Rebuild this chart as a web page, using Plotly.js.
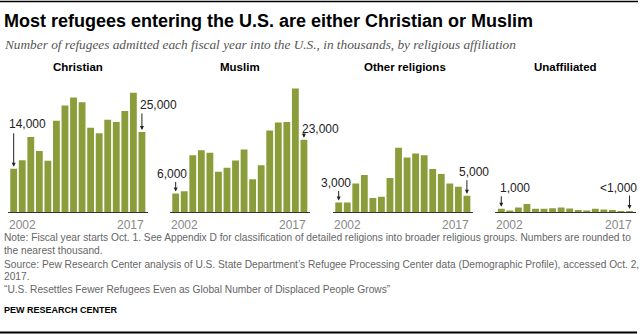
<!DOCTYPE html>
<html>
<head>
<meta charset="utf-8">
<script src="https://cdn.plot.ly/plotly-3.0.1.min.js"></script>
<style>
  html, body { margin: 0; padding: 0; background: #fff; }
  #chart { width: 640px; height: 334px; }
</style>
</head>
<body>
<div id="chart"></div>
<script>
// ---- Data (thousands of refugees admitted, fiscal years 2002-2017) ----
const years = [2002, 2003, 2004, 2005, 2006, 2007, 2008, 2009, 2010, 2011, 2012, 2013, 2014, 2015, 2016, 2017];
const panelNames = ["Christian", "Muslim", "Other religions", "Unaffiliated"];
const christian = [13.5, 16.2, 23.4, 19.1, 16.0, 28.5, 33.3, 35.8, 34.3, 26.3, 24.6, 28.8, 28.1, 31.6, 37.3, 25.0];
const muslim = [5.8, 6.5, 17.7, 19.3, 18.5, 12.6, 13.8, 16.1, 19.5, 10.2, 14.6, 25.5, 28.0, 28.1, 38.6, 22.6];
const otherRel = [3.0, 3.0, 8.9, 11.6, 4.4, 4.8, 10.6, 20.1, 17.0, 18.3, 17.7, 13.4, 11.9, 8.9, 7.9, 5.1];
const unaffiliated = [1.0, 0.5, 1.4, 2.5, 1.0, 1.0, 1.2, 1.4, 1.1, 0.6, 0.5, 1.0, 0.8, 0.6, 0.3, 0.3];
const firstLabels = ["14,000", "6,000", "3,000", "1,000"];
const lastLabels = ["25,000", "23,000", "5,000", "<1,000"];
const series = [christian, muslim, otherRel, unaffiliated];

// ---- Helpers: pixel -> paper ----
const W = 640, H = 334;
const px = x => x / W;
const py = y => 1 - y / H;

const GREEN = "#8b9d3a";
const SANS = "Liberation Sans, Arial, sans-serif";
const NARROW = "Liberation Sans Narrow, Arial Narrow, Liberation Sans, sans-serif";

const domainsPx = [[7.7, 147.9], [169.7, 309.9], [332.7, 472.9], [495.3, 635.5]];
const titleCx = [77.5, 240, 405, 565];
// arrow tail pixel offsets (relative to bar top) and label positions (left x, center y)
const firstArrow = [-37, -13, -13, -14];
const lastArrow = [-20, -8, -17, -17];
const firstLblPos = [[7, 124], [155, 174], [319, 183], [498, 188]];
const lastLblPos = [[138, 105], [300, 129], [457, 172], [598, 188]];

const traces = [];
const layout = {
  width: W, height: H,
  margin: {l: 0, r: 0, t: 0, b: 0},
  paper_bgcolor: "#fff", plot_bgcolor: "rgba(0,0,0,0)",
  showlegend: false,
  bargap: 0.2,
  annotations: [],
  shapes: [
    {type: "line", xref: "paper", yref: "paper", x0: 0, x1: px(638), y0: py(1.5), y1: py(1.5), line: {color: "#000", width: 1.5}},
    {type: "line", xref: "paper", yref: "paper", x0: 0, x1: px(637), y0: py(332.5), y1: py(332.5), line: {color: "#000", width: 2}}
  ]
};

series.forEach((vals, i) => {
  const sfx = i === 0 ? "" : String(i + 1);
  traces.push({
    type: "bar", x: years, y: vals,
    xaxis: "x" + sfx, yaxis: "y" + sfx,
    marker: {color: GREEN, line: {width: 0}},
    hoverinfo: "skip"
  });
  layout["xaxis" + sfx] = {
    domain: [px(domainsPx[i][0]), px(domainsPx[i][1])],
    range: [2001.3, 2017.7], anchor: "y" + sfx,
    showline: true, linecolor: "#333", linewidth: 1,
    showgrid: false, zeroline: false, showticklabels: false, ticks: "",
    fixedrange: true
  };
  layout["yaxis" + sfx] = {
    domain: [py(212), py(80)], range: [0, 41.25], anchor: "x" + sfx,
    visible: false, fixedrange: true
  };
  const xr = "x" + sfx, yr = "y" + sfx;
  // panel title
  layout.annotations.push({xref: "paper", yref: "paper", x: px(titleCx[i]), y: py(67), xanchor: "center", yanchor: "middle",
    text: "<b>" + panelNames[i] + "</b>", showarrow: false, font: {family: SANS, size: 11.5, color: "#000"}});
  // year labels
  layout.annotations.push({xref: xr, yref: "paper", x: years[0], y: py(224.5), xanchor: "left", yanchor: "middle", xshift: -7,
    text: String(years[0]), showarrow: false, font: {family: SANS, size: 12, color: "#888"}});
  layout.annotations.push({xref: xr, yref: "paper", x: years[years.length - 1], y: py(224.5), xanchor: "right", yanchor: "middle", xshift: 4,
    text: String(years[years.length - 1]), showarrow: false, font: {family: SANS, size: 12, color: "#888"}});
  // arrows
  layout.annotations.push({xref: xr, yref: yr, x: years[0], y: vals[0], ax: 0, ay: firstArrow[i], text: "",
    showarrow: true, arrowhead: 2, arrowsize: 0.8, arrowwidth: 1, arrowcolor: "#222", standoff: 2});
  layout.annotations.push({xref: xr, yref: yr, x: years[years.length - 1], y: vals[vals.length - 1], ax: 0, ay: lastArrow[i], text: "",
    showarrow: true, arrowhead: 2, arrowsize: 0.8, arrowwidth: 1, arrowcolor: "#222", standoff: 2});
  // value labels
  layout.annotations.push({xref: "paper", yref: "paper", x: px(firstLblPos[i][0]), y: py(firstLblPos[i][1]), xanchor: "left", yanchor: "middle",
    text: firstLabels[i], showarrow: false, font: {family: SANS, size: 12, color: "#222"}});
  layout.annotations.push({xref: "paper", yref: "paper", x: px(lastLblPos[i][0]), y: py(lastLblPos[i][1]), xanchor: "left", yanchor: "middle",
    text: lastLabels[i], showarrow: false, font: {family: SANS, size: 12, color: "#222"}});
});

// headings and notes
const NOTE = {family: NARROW, size: 10.2, color: "#666"};
const textLines = [
  {t: "<b>Most refugees entering the U.S. are either Christian or Muslim</b>", y: 21, f: {family: NARROW, size: 18, color: "#000"}},
  {t: "<i>Number of refugees admitted each fiscal year into the U.S., in thousands, by religious affiliation</i>", y: 44, f: {family: "Liberation Serif, serif", size: 13.3, color: "#555"}},
  {t: "Note: Fiscal year starts Oct. 1. See Appendix D for classification of detailed religions into broader religious groups. Numbers are rounded to", y: 238, f: NOTE},
  {t: "the nearest thousand.", y: 250, f: NOTE},
  {t: "Source: Pew Research Center analysis of U.S. State Department’s Refugee Processing Center data (Demographic Profile), accessed Oct. 2,", y: 264, f: NOTE},
  {t: "2017.", y: 276, f: NOTE},
  {t: "“U.S. Resettles Fewer Refugees Even as Global Number of Displaced People Grows”", y: 289, f: NOTE},
  {t: "<b>PEW RESEARCH CENTER</b>", y: 310, f: {family: NARROW, size: 9, color: "#000"}}
];
textLines.forEach(l => layout.annotations.push({xref: "paper", yref: "paper", x: px(2), y: py(l.y), xanchor: "left", yanchor: "middle",
  text: l.t, showarrow: false, font: l.f}));

Plotly.newPlot("chart", traces, layout, {displayModeBar: false, staticPlot: true});
</script>
</body>
</html>
